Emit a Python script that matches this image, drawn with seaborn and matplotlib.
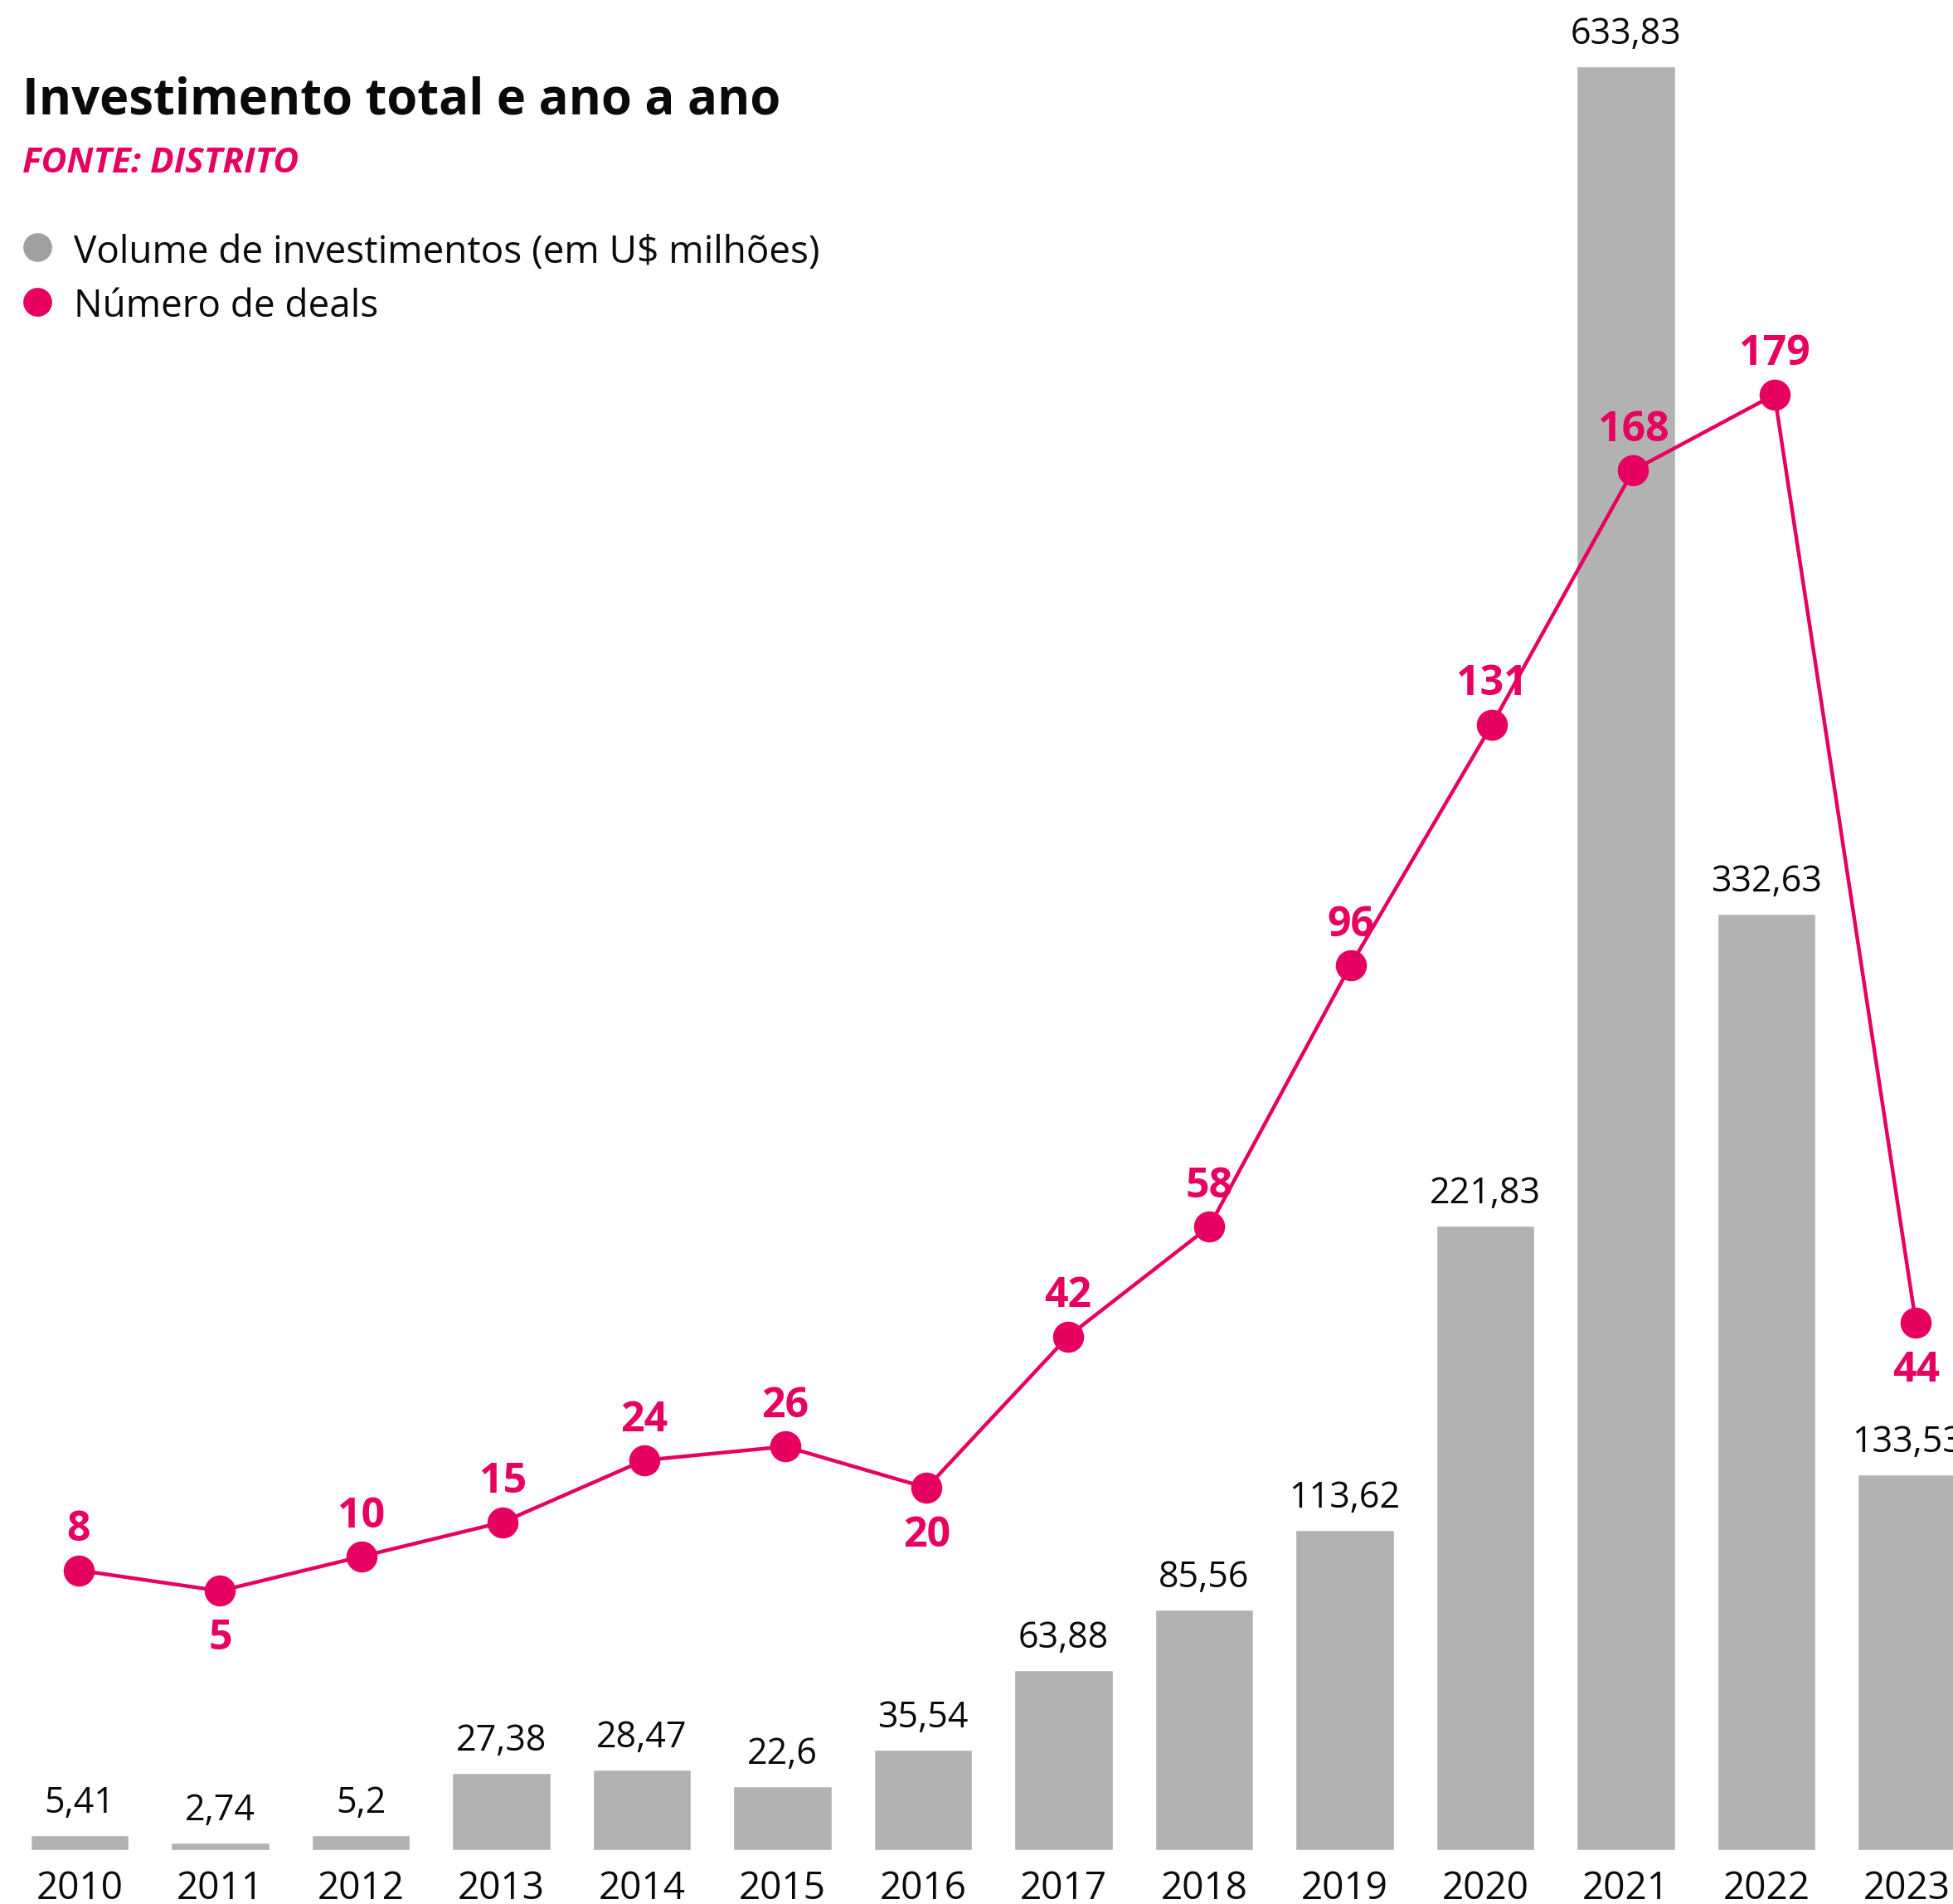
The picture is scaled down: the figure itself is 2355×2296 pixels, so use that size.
import numpy as np
import pandas as pd
import seaborn as sns
import matplotlib.pyplot as plt
from matplotlib.lines import Line2D

sns.set_theme(style="white")
plt.rcParams['font.family'] = ['Open Sans', 'Noto Sans', 'DejaVu Sans']

# data
years = ['2010', '2011', '2012', '2013', '2014', '2015', '2016',
         '2017', '2018', '2019', '2020', '2021', '2022', '2023']
volume = [5.41, 2.74, 5.2, 27.38, 28.47, 22.6, 35.54,
          63.88, 85.56, 113.62, 221.83, 633.83, 332.63, 133.53]
deals = [8, 5, 10, 15, 24, 26, 20, 42, 58, 96, 131, 168, 179, 44]
below = ['2011', '2016', '2023']  # deal labels drawn under the dot

pink = '#E6005F'
bar_gray = '#B2B2B2'
ink = '#0A0A0A'

df = pd.DataFrame({'ano': years, 'volume': volume, 'deals': deals})

W, H = 2355, 2296
fig = plt.figure(figsize=(W / 100, H / 100), dpi=100)
rect = [0, 65 / H, 1, 2231 / H]
ax = fig.add_axes(rect)

sns.barplot(data=df, x='ano', y='volume', color=bar_gray, width=0.7,
            saturation=1, ax=ax)
ax.set_xlim(-0.566, 13.327)
ax.set_ylim(0, 657.3)

for i, v in enumerate(volume):
    ax.annotate(f"{v:g}".replace('.', ','), (i, v), xytext=(0, 19.5),
                textcoords='offset points', ha='center', va='baseline',
                fontsize=31, color=ink)

# the deals line sits on its own overlay, spaced a touch wider than the bars
ax2 = fig.add_axes(rect, facecolor='none')
sns.lineplot(x=np.arange(len(years)), y=deals, ax=ax2, color=pink,
             linewidth=3.2, marker='o', markersize=27,
             markeredgewidth=0, markerfacecolor=pink)
ax2.set_xlim(-0.5575, 13.263)
ax2.set_ylim(-32.7, 236.4)

for i, (yr, d) in enumerate(zip(years, deals)):
    dy = -51 if yr in below else 25.5
    ax2.annotate(str(d), (i, d), xytext=(0, dy), textcoords='offset points',
                 ha='center', va='baseline', fontsize=36, fontweight='bold',
                 color=pink)

for a in (ax, ax2):
    for s in a.spines.values():
        s.set_visible(False)
    a.set_ylabel('')
    a.set_xlabel('')
    a.set_yticks([])
ax2.set_xticks([])

ax.tick_params(axis='x', length=0, pad=17, labelsize=33, labelcolor=ink)

# title, source and legend
fig.text(27 / W, 1 - 137 / H, 'Investimento total e ano a ano',
         fontsize=43, fontweight='bold', color=ink, va='baseline')
fig.text(27 / W, 1 - 208 / H, 'FONTE: DISTRITO', fontsize=30.5,
         fontweight='bold', fontstyle='italic', color=pink, va='baseline')

legend = [('Volume de investimentos (em U$ milhões)', '#A0A0A0', 298, 317),
          ('Número de deals', pink, 364, 382)]
for label, col, yc, yb in legend:
    fig.add_artist(Line2D([45 / W], [1 - yc / H], transform=fig.transFigure,
                          marker='o', markersize=25, markeredgewidth=0,
                          color=col, linestyle='none'))
    fig.text(89 / W, 1 - yb / H, label, fontsize=33, color=ink,
             va='baseline')

fig.savefig('out.png', dpi=100)
